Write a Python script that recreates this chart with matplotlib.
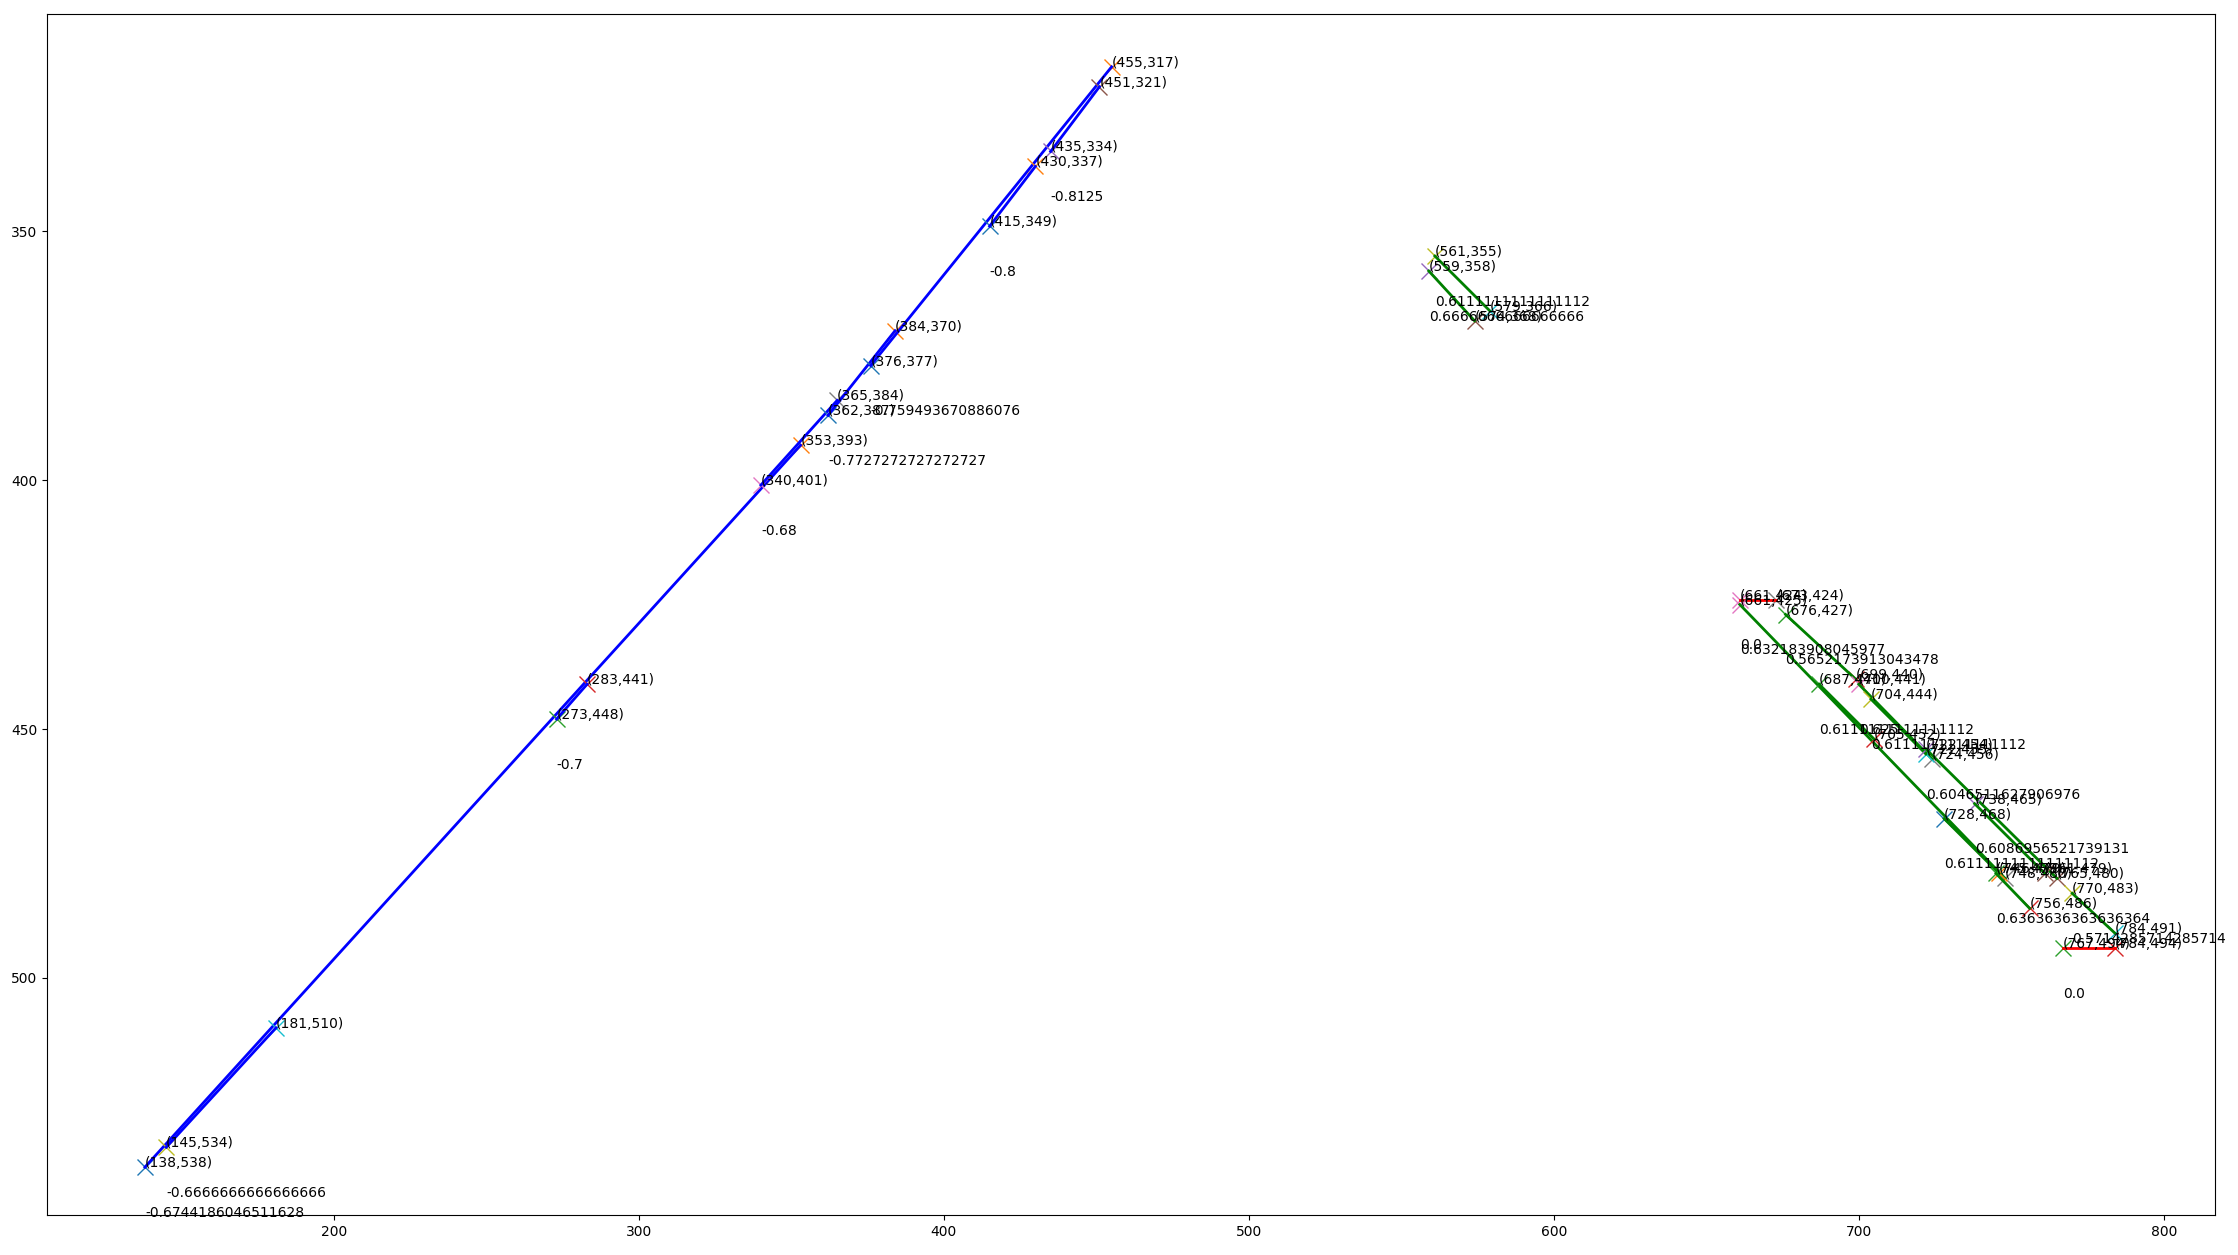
import matplotlib
matplotlib.use("Agg")
import matplotlib.pyplot as plt

# detected segments: start point (X1, Y1) -> end point (X2, Y2)
X1 = [138, 145, 273, 340, 362, 376, 415, 435,
      561, 559,
      661, 661, 676, 687, 700, 704, 722, 728, 738, 745, 770, 767]
Y1 = [538, 534, 448, 401, 387, 377, 349, 334,
      355, 358,
      424, 425, 427, 441, 441, 444, 454, 468, 465, 479, 483, 494]
X2 = [353, 181, 283, 365, 384, 455, 430, 451,
      579, 574,
      673, 748, 699, 705, 724, 722, 765, 746, 761, 756, 784, 784]
Y2 = [393, 510, 441, 384, 370, 317, 337, 321,
      366, 368,
      424, 480, 440, 452, 456, 455, 480, 479, 479, 486, 491, 494]

# marker colour of each segment's start point (end point takes the next one)
START_COLOR = [0, 8, 2, 6, 0, 0, 0, 4,
               8, 4,
               6, 6, 2, 2, 6, 8, 4, 0, 4, 2, 8, 2]

CYCLE = plt.rcParams["axes.prop_cycle"].by_key()["color"]

fig, ax = plt.subplots(figsize=(22.38, 12.55), dpi=100)

for x1, y1, x2, y2, ci in zip(X1, Y1, X2, Y2, START_COLOR):
    slope = (y2 - y1) / (x2 - x1)
    if slope < 0:
        lc = "blue"
    elif slope > 0:
        lc = "green"
    else:
        lc = "red"

    ax.plot(x1, y1, "x", color=CYCLE[ci % 10], markersize=12)
    ax.plot(x2, y2, "x", color=CYCLE[(ci + 1) % 10], markersize=12)
    ax.plot([x1, x2], [y1, y2], color=lc, linewidth=2.0)

    ax.text(x1, y1, f"({x1},{y1})", fontsize=10)
    ax.text(x2, y2, f"({x2},{y2})", fontsize=10)
    ax.text(x1, y1 + 10, str(slope), fontsize=10)

ax.set_xlim(105.9, 816.8)
ax.set_ylim(547.6, 306.4)   # inverted, image-style y axis

fig.subplots_adjust(left=0.021, right=0.9897, top=0.9888, bottom=0.0319)
fig.savefig("out.png", dpi=100)
